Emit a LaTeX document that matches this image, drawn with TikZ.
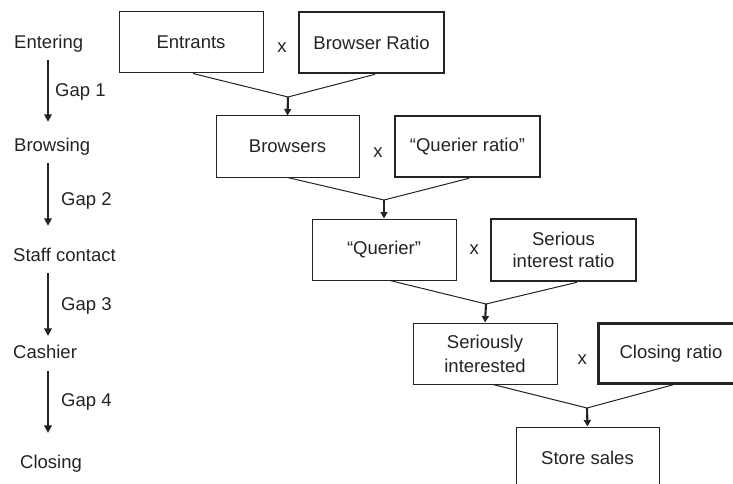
\documentclass[tikz,border=0pt]{standalone}
\usepackage{fontspec}
\setmainfont{Liberation Sans}
\usetikzlibrary{arrows.meta,calc}
\definecolor{ink}{RGB}{35,35,35}
\begin{document}
\begin{tikzpicture}[x=1pt,y=-1pt,
  every node/.style={text=ink, font=\fontsize{18.5}{22.5}\selectfont},
  box/.style={draw=ink, line width=1pt, minimum width=144pt, minimum height=61pt, inner sep=2pt, align=center},
  ratiobox/.style={box, line width=2.6pt, minimum width=145pt},
  lbl/.style={inner sep=0pt, text height=13.2pt, text depth=3.9pt, anchor=base west},
  gaparrow/.style={draw=ink, line width=2.1pt, -{Triangle[length=7.5pt,width=7.5pt]}},
  flowarrow/.style={draw=ink, line width=2.1pt, -{Triangle[length=6.5pt,width=7pt]}},
  vline/.style={draw=ink, line width=1pt}]
\useasboundingbox (0,0) rectangle (733,484);
\clip (0,0) rectangle (733,484);

% left column
\coordinate (axis) at (48,0);
\node[lbl] (entering) at (14,48.3) {Entering};
\node[lbl] (browsing) at (14,151.7) {Browsing};
\node[lbl] (staff) at (13,261.7) {Staff contact};
\node[lbl] (cashier) at (13,358.3) {Cashier};
\node[lbl] (closing) at (20,468.3) {Closing};
\node[lbl] (gap1) at (55,96.7) {Gap 1};
\node[lbl] (gap2) at (61,205) {Gap 2};
\node[lbl] (gap3) at (61,310) {Gap 3};
\node[lbl] (gap4) at (61,406.7) {Gap 4};
\draw[gaparrow, shorten <=7.8pt, shorten >=16.5pt] (entering.south -| axis) -- (browsing.north -| axis);
\draw[gaparrow, shorten <=7.4pt, shorten >=22.5pt] (browsing.south -| axis) -- (staff.north -| axis);
\draw[gaparrow, shorten <=7.4pt, shorten >=9pt] (staff.south -| axis) -- (cashier.north -| axis);
\draw[gaparrow, shorten <=8.8pt, shorten >=22pt] (cashier.south -| axis) -- (closing.north -| axis);

% boxes
\node[box] (entrants) at (191,42.5) {Entrants};
\node[ratiobox] (bratio) at (371.5,42.5) {Browser Ratio};
\node (x1) at (282,47.5) {x};

\node[box, minimum width=143pt] (browsers) at (287.5,146.5) {Browsers};
\node[ratiobox] (qratio) at (467.5,146.5) {“Querier ratio”};
\node (x2) at (378,152.5) {x};

\node[box] (querier) at (384,249.5) {“Querier”};
\node[ratiobox, minimum height=62pt] (sratio) at (563.5,250) {Serious\\interest ratio};
\node (x3) at (474.3,250) {x};

\node[box, font=\fontsize{18.5}{24}\selectfont] (serious) at (485,353.5) {Seriously\\interested};
\node[ratiobox, minimum height=60pt] (cratio) at (671,353.5) {Closing ratio};
\node (x4) at (582.3,360) {x};

\node[box, minimum width=143pt, minimum height=62pt] (sales) at (587.5,458) {Store sales};

% joints
\coordinate (j1) at (288,97);
\coordinate (j2) at (384,200);
\coordinate (j3) at (486,304);
\coordinate (j4) at (587,408);

\draw[vline] ([xshift=2pt]entrants.south) -- (j1) -- ([xshift=3.5pt]bratio.south);
\draw[flowarrow] (j1) -- (browsers.north);
\draw[vline] (browsers.south) -- (j2) -- ([xshift=1.5pt]qratio.south);
\draw[flowarrow] (j2) -- (querier.north);
\draw[vline] ([xshift=6pt]querier.south) -- (j3) -- ([xshift=13.5pt]sratio.south);
\draw[flowarrow] (j3) -- (serious.north);
\draw[vline] ([xshift=8pt]serious.south) -- (j4) -- ([xshift=2pt]cratio.south);
\draw[flowarrow] (j4) -- (sales.north);
\end{tikzpicture}
\end{document}
